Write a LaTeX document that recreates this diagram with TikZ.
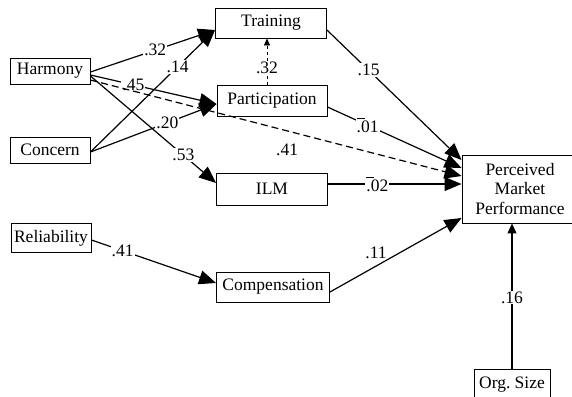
\documentclass[tikz,border=0pt]{standalone}
\usepackage{fontspec}
\setmainfont{Liberation Serif}
\usetikzlibrary{arrows.meta, calc, positioning}

\newcommand{\barneg}[1]{\makebox[0pt][l]{\raisebox{0.8em}{\rule{8pt}{0.7pt}}}#1}

\begin{document}
\begin{tikzpicture}[x=1pt, y=-1pt, font=\fontsize{17.5}{19.5}\selectfont,
    var/.style={draw, line width=0.9pt, inner sep=0pt},
    path/.style={line width=1.2pt, -{Triangle[length=17pt,width=14pt]}},
    coef/.style={fill=white, inner sep=1pt}]
    \useasboundingbox (0,0) rectangle (572,396);
    % variables
    \node[var, minimum width=80pt, minimum height=26pt] (harmony) at (50,71) {Harmony};
    \node[var, minimum width=80pt, minimum height=26pt] (concern) at (50,150) {Concern};
    \node[var, minimum width=80pt, minimum height=29pt] (reliab) at (51,238) {Reliability};
    \node[var, minimum width=111pt, minimum height=30pt] (training) at (271,23) {Training};
    \node[var, minimum width=110pt, minimum height=31pt] (particip) at (272,101) {Participation};
    \node[var, minimum width=111pt, minimum height=32pt] (ilm) at (272,189) {ILM};
    \node[var, minimum width=113pt, minimum height=30pt] (comp) at (273,287) {Compensation};
    \node[var, minimum width=116pt, minimum height=68pt, align=center] (pmp) at (520,189)
        {Perceived\\Market\\Performance};
    \node[var, minimum width=76pt, minimum height=32pt] (orgsize) at (512,385) {Org.~Size};
    % paths
    \draw[path] ($(harmony.east)+(0,1)$) -- node[coef, pos=0.52]{.32} ($(training.west)+(0,7)$);
    \draw[path] ($(concern.east)+(0,2)$) -- node[coef, pos=0.70]{.14} ($(training.west)+(0,7)$);
    \draw[path] ($(harmony.east)+(0,4)$) -- node[coef, pos=0.34]{.45} ($(particip.west)+(0,3)$);
    \draw[path] ($(concern.east)+(0,2)$) -- node[coef, pos=0.61]{.20} ($(particip.west)+(0,3)$);
    \draw[path] ($(harmony.east)+(0,5)$) -- node[coef, pos=0.74]{.53} ($(ilm.west)+(0,-6)$);
    \draw[path, dash pattern=on 7pt off 4pt] ($(harmony.east)+(0,9)$) -- node[pos=0.53, below=9pt]{.41} ($(pmp.west)+(0,-13)$);
    \draw[line width=0.7pt, dashed, -{Triangle[length=7pt,width=6pt]}] ($(particip.north)+(-5,0)$)
        -- node[coef, pos=0.375]{.32} ($(training.south)+(-4,0)$);
    \draw[path] ($(training.east)+(0,7)$) -- node[coef, pos=0.31]{.15} ($(pmp.west)+(0,-29)$);
    \draw[path] ($(particip.east)+(0,6)$) -- node[coef, pos=0.30]{\barneg{.01}} ($(pmp.west)+(0,-21)$);
    \draw[path] ($(ilm.east)+(0,-5)$) -- node[coef, pos=0.37]{\barneg{.02}} ($(pmp.west)+(0,-5)$);
    \draw[path] ($(comp.east)+(0,5)$) -- node[pos=0.35, above=3pt]{.11} ($(pmp.west)+(0,29)$);
    \draw[path] ($(reliab.east)+(0,2)$) -- node[coef, pos=0.25]{.41} ($(comp.west)+(0,-4)$);
    \draw[line width=1.2pt, -{Triangle[length=10pt,width=9pt]}] ($(orgsize.north)+(0,0)$)
        -- node[coef, pos=0.49]{.16} (orgsize.north |- pmp.south);
\end{tikzpicture}
\end{document}
